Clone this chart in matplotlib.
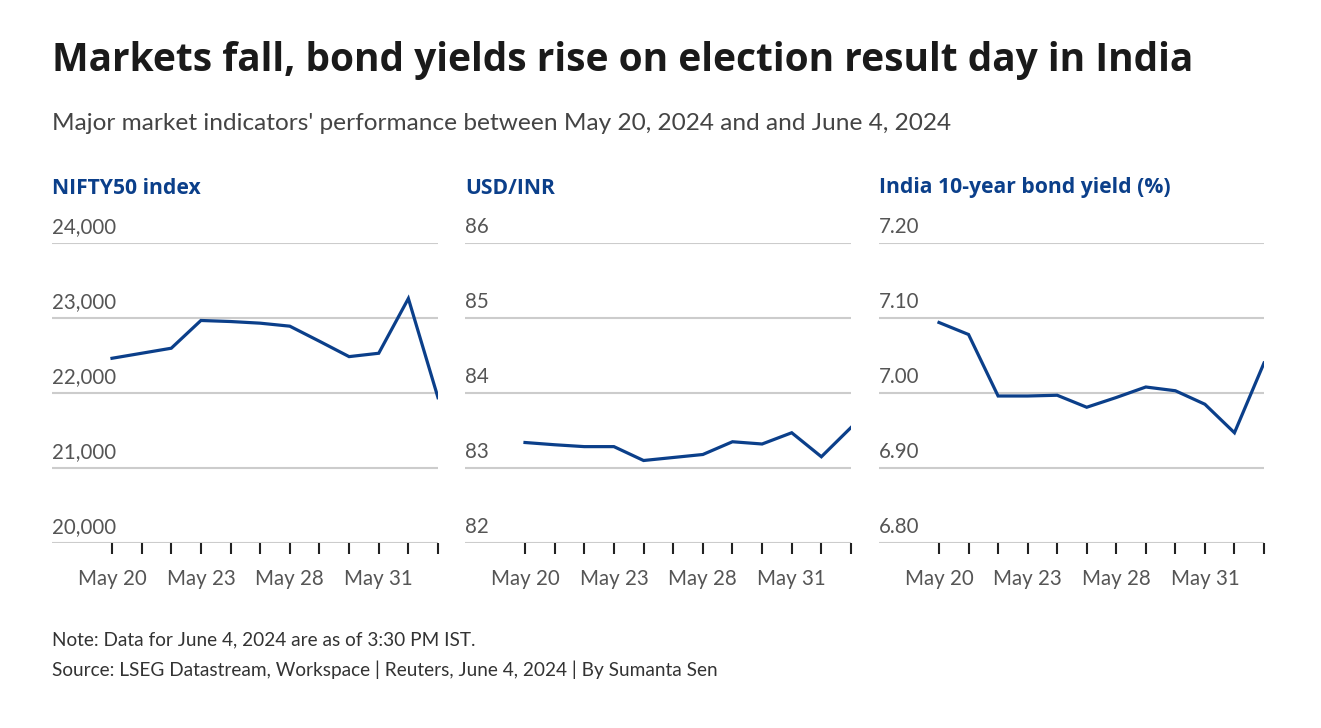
import matplotlib.pyplot as plt
from matplotlib import transforms

plt.rcParams['font.family'] = ['Lato', 'DejaVu Sans']

# Trading days shown on the x axis
dates = ['May 20', 'May 21', 'May 22', 'May 23', 'May 24', 'May 27',
         'May 28', 'May 29', 'May 30', 'May 31', 'Jun 3', 'Jun 4']
shown_labels = ['May 20', 'May 23', 'May 28', 'May 31']

nifty = [22463, 22530, 22597, 22967, 22953, 22931, 22891, 22690, 22485, 22530, 23260, 21938]
usdinr = [83.34, 83.31, 83.285, 83.285, 83.10, 83.14, 83.18, 83.35, 83.32, 83.47, 83.15, 83.54]
bond = [7.094, 7.078, 6.996, 6.996, 6.997, 6.981, 6.994, 7.008, 7.003, 6.985, 6.947, 7.040]

panel_titles = ['NIFTY50 index', 'USD/INR', 'India 10-year bond yield (%)']
yticks = [[20000, 21000, 22000, 23000, 24000],
          [82, 83, 84, 85, 86],
          [6.80, 6.90, 7.00, 7.10, 7.20]]
ytick_fmt = ['{:,.0f}', '{:.0f}', '{:.2f}']
series = [nifty, usdinr, bond]

W, H = 1321, 728
fig = plt.figure(figsize=(W / 100, H / 100), dpi=100)
fig.patch.set_facecolor('white')

blue = '#0b3f8a'
grid_c = '#cccccc'
txt_gray = '#555555'
bold_font = ['Open Sans', 'DejaVu Sans']

# axes extents in pixels (left edge of grid, right edge = last point)
lefts = [52, 465, 879]
rights = [438, 851, 1264]
top_px, bot_px = 243, 543

for i in range(3):
    l, r = lefts[i], rights[i]
    ax = fig.add_axes([l / W, 1 - bot_px / H, (r - l) / W, (bot_px - top_px) / H])
    x = list(range(len(dates)))
    step = (r - l - 60) / (len(dates) - 1)
    ax.set_xlim(-60 / step, len(dates) - 1)
    ax.set_ylim(yticks[i][0], yticks[i][-1])

    for v in yticks[i]:
        ax.axhline(v, color=grid_c, lw=1.5, zorder=1)
        off = transforms.offset_copy(ax.get_yaxis_transform(), fig=fig, x=0, y=6, units='dots')
        ax.text(0, v, ytick_fmt[i].format(v), transform=off, ha='left', va='bottom',
                fontsize=14.8, color=txt_gray)

    ax.plot(x, series[i], color=blue, lw=2.3, zorder=3, solid_joinstyle='miter')

    for s in ax.spines.values():
        s.set_visible(False)
    ax.set_yticks([])
    ax.set_xticks(x)
    ax.set_xticklabels([d if d in shown_labels else '' for d in dates])
    ax.tick_params(axis='x', length=8, width=1.5, color='#222222', pad=11,
                   labelsize=14.8, labelcolor=txt_gray)
    ax.set_facecolor('none')

    fig.text(l / W, 1 - 188 / H, panel_titles[i], fontsize=15.2, fontweight='bold',
             color=blue, va='center', ha='left', family=bold_font)

fig.text(52 / W, 1 - 61 / H, 'Markets fall, bond yields rise on election result day in India',
         fontsize=28, fontweight='bold', color='#1a1a1a', va='center', ha='left',
         family=bold_font)
fig.text(52 / W, 1 - 123 / H,
         "Major market indicators' performance between May 20, 2024 and and June 4, 2024",
         fontsize=17.6, color='#444444', va='center', ha='left')
fig.text(52 / W, 1 - 640 / H, 'Note: Data for June 4, 2024 are as of 3:30 PM IST.',
         fontsize=13.7, color='#333333', va='center', ha='left')
fig.text(52 / W, 1 - 670 / H,
         'Source: LSEG Datastream, Workspace | Reuters, June 4, 2024 | By Sumanta Sen',
         fontsize=13.7, color='#333333', va='center', ha='left')

fig.savefig('out.png', dpi=100, facecolor='white')
